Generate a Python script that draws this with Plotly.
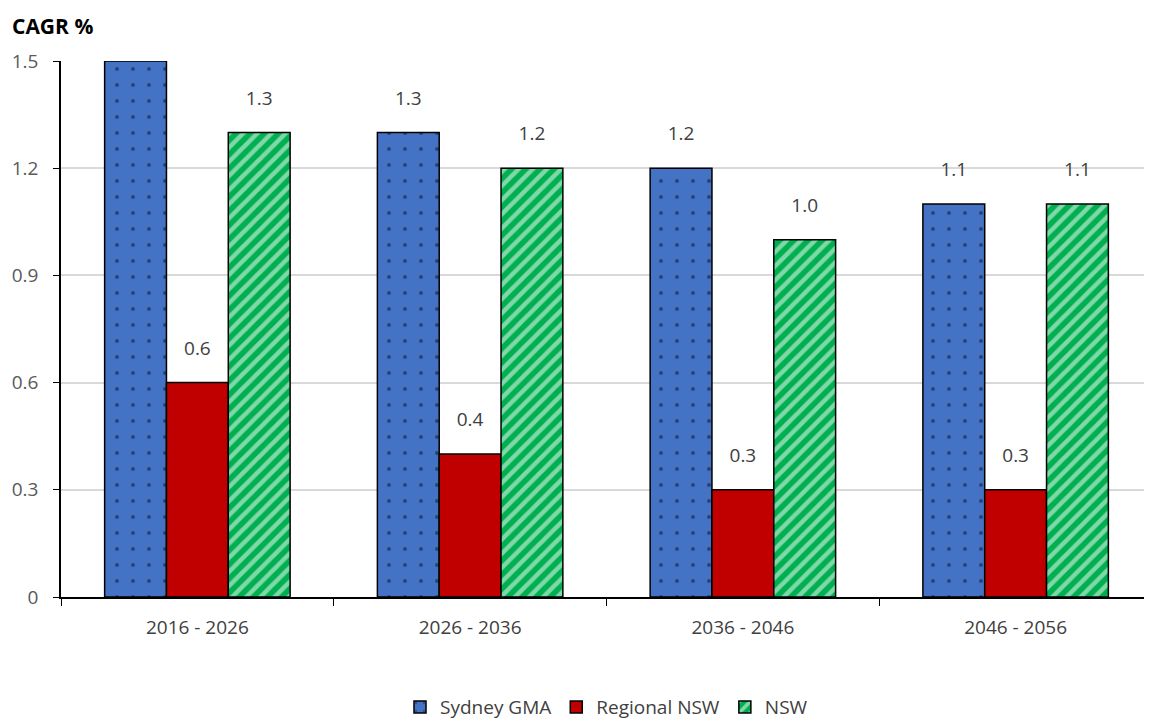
import plotly.graph_objects as go

categories = ["2016 - 2026", "2026 - 2036", "2036 - 2046", "2046 - 2056"]
sydney = [1.5, 1.3, 1.2, 1.1]
regional = [0.6, 0.4, 0.3, 0.3]
nsw = [1.3, 1.2, 1.0, 1.1]
sydney_labels = ["", "1.3", "1.2", "1.1"]
regional_labels = ["0.6", "0.4", "0.3", "0.3"]
nsw_labels = ["1.3", "1.2", "1.0", "1.1"]
yticks = [0, 0.3, 0.6, 0.9, 1.2, 1.5]
yticklabels = ["0", "0.3", "0.6", "0.9", "1.2", "1.5"]

font_family = "Open Sans, Liberation Sans, sans-serif"
label_font = dict(family=font_family, size=19, color="#404040")
tmpl = "%{text}<br><span style='font-size:1px'> </span>"

fig = go.Figure()
fig.add_trace(go.Bar(
    name="Sydney GMA", x=categories, y=sydney, text=sydney_labels,
    texttemplate=tmpl, textposition="outside", textfont=label_font, cliponaxis=False,
    marker=dict(color="#4472C4", line=dict(color="black", width=1.5),
                pattern=dict(shape=".", fgcolor="#111122", bgcolor="#4472C4",
                             size=16, solidity=0.05)),
))
fig.add_trace(go.Bar(
    name="Regional NSW", x=categories, y=regional, text=regional_labels,
    texttemplate=tmpl, textposition="outside", textfont=label_font, cliponaxis=False,
    marker=dict(color="#C00000", line=dict(color="black", width=1.5)),
))
fig.add_trace(go.Bar(
    name="NSW", x=categories, y=nsw, text=nsw_labels,
    texttemplate=tmpl, textposition="outside", textfont=label_font, cliponaxis=False,
    marker=dict(color="#00B050", line=dict(color="black", width=1.5),
                pattern=dict(shape="/", fgcolor="white", bgcolor="#00B050",
                             size=10, solidity=0.45)),
))

fig.update_layout(
    width=1144, height=712,
    margin=dict(l=53, r=0, t=53, b=123, autoexpand=False),
    paper_bgcolor="white", plot_bgcolor="white",
    barmode="group", bargap=0.32, bargroupgap=0,
    font=dict(family=font_family, size=19, color="#404040"),
    showlegend=True,
    legend=dict(orientation="h", x=0.5, xanchor="center", y=-0.17, yanchor="top",
                font=dict(family=font_family, size=19, color="#404040"),
                itemwidth=30, traceorder="normal"),
    annotations=[dict(text="<b>CAGR %</b>", xref="paper", yref="paper",
                      x=-0.047, y=1.095, xanchor="left", yanchor="top",
                      showarrow=False,
                      font=dict(family=font_family, size=21, color="black"))],
)
fig.update_yaxes(range=[0, 1.5], tickvals=yticks, ticktext=yticklabels,
                 showgrid=True, gridcolor="#D9D9D9", gridwidth=1.5,
                 showline=True, linecolor="black", linewidth=1.5,
                 ticks="outside", ticklen=6, tickcolor="black",
                 ticklabelstandoff=11,
                 tickfont=dict(family=font_family, size=19, color="#595959"),
                 zeroline=False, automargin=False)
fig.update_xaxes(showline=True, linecolor="black", linewidth=1.5,
                 ticks="outside", ticklen=7, tickcolor="black",
                 tickson="boundaries", ticklabelstandoff=12, automargin=False,
                 tickfont=dict(family=font_family, size=19, color="#404040"))

fig.write_html("out.html")
